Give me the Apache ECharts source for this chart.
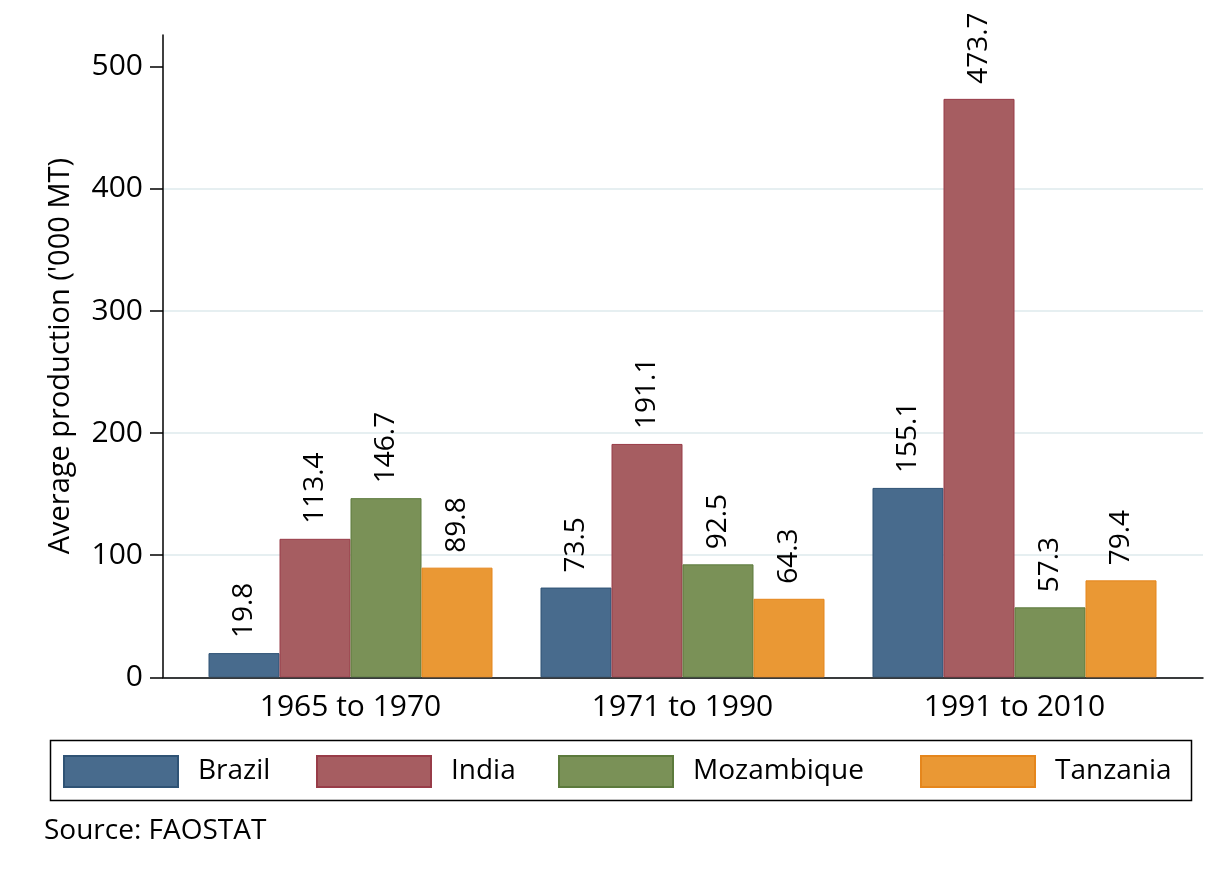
<!DOCTYPE html>
<html>
<head>
<meta charset="utf-8">
<script src="https://cdn.jsdelivr.net/npm/echarts@6/dist/echarts.min.js"></script>
<style>
  html, body { margin: 0; padding: 0; background: #fff; }
  #main { width: 1215px; height: 882px; }
</style>
</head>
<body>
<div id="main"></div>
<script>
// periods and average production ('000 MT)
const periods = ['1965 to 1970', '1971 to 1990', '1991 to 2010']
const brazil = [19.8, 73.5, 155.1]
const india = [113.4, 191.1, 473.7]
const mozambique = [146.7, 92.5, 57.3]
const tanzania = [89.8, 64.3, 79.4]
const yTicks = [0, 100, 200, 300, 400, 500]

const font = '"Open Sans", "Noto Sans", sans-serif'
const colors = {
    Brazil: ['#486b8d', '#2f5375'],
    India: ['#a65d61', '#983c48'],
    Mozambique: ['#7a9157', '#5c7a3c'],
    Tanzania: ['#ea9834', '#e5861c']
}

let myChart = echarts.init(document.getElementById('main'))

const makeSeries = (name, data) => ({
    name: name,
    type: 'bar',
    xAxisIndex: 1,
    yAxisIndex: 1,
    data: data,
    barWidth: 71,
    barGap: '0%',
    itemStyle: {color: colors[name][0], borderColor: colors[name][1], borderWidth: 1},
    label: {
        show: true,
        position: 'top',
        rotate: 90,
        align: 'left',
        verticalAlign: 'middle',
        distance: 15,
        fontFamily: font,
        fontSize: 28,
        color: '#000'
    }
})

const legendAt = (name, left) => ({
    data: [name],
    left: left,
    top: 755,
    padding: 0,
    itemWidth: 114,
    itemHeight: 31,
    icon: 'rect',
    selectedMode: false,
    textStyle: {fontFamily: font, fontSize: 28, color: '#000', padding: [0, 0, 0, 15]}
})

let option = {
    backgroundColor: '#fff',
    animation: false,
    title: {
        text: 'Source: FAOSTAT',
        left: 39,
        top: 812,
        textStyle: {fontFamily: font, fontSize: 28, fontWeight: 'normal', color: '#000'}
    },
    legend: [
        legendAt('Brazil', 63),
        legendAt('India', 316),
        legendAt('Mozambique', 558),
        legendAt('Tanzania', 920)
    ],
    graphic: [{
        type: 'rect',
        shape: {x: 50.5, y: 740.5, width: 1141, height: 60},
        style: {fill: 'none', stroke: '#000', lineWidth: 1.5}
    }],
    grid: [
        {left: 163, right: 12, top: 35, bottom: 204.7},
        {left: 184.5, right: 34.5, top: 35, bottom: 204.7}
    ],
    xAxis: [{
        gridIndex: 0,
        type: 'category',
        data: [''],
        axisLine: {show: true, lineStyle: {color: '#000', width: 1.5}},
        axisTick: {show: false},
        axisLabel: {show: false}
    }, {
        gridIndex: 1,
        type: 'category',
        data: periods,
        axisLine: {show: false},
        axisTick: {show: false},
        axisLabel: {fontFamily: font, fontSize: 30, color: '#000', margin: 15}
    }],
    yAxis: [{
        gridIndex: 0,
        type: 'value',
        min: 0,
        max: 526,
        interval: 100,
        name: "Average production ('000 MT)",
        nameLocation: 'middle',
        nameGap: 88,
        nameTextStyle: {fontFamily: font, fontSize: 29, color: '#000'},
        axisLine: {show: true, lineStyle: {color: '#000', width: 1.5}},
        axisTick: {show: true, length: 13, customValues: yTicks, lineStyle: {color: '#000', width: 1.5}},
        axisLabel: {fontFamily: font, fontSize: 30, color: '#000', margin: 20, customValues: yTicks},
        splitLine: {show: true, showMaxLine: false, lineStyle: {color: '#e6eff1', width: 2}}
    }, {
        gridIndex: 1,
        type: 'value',
        min: 0,
        max: 526,
        show: false,
        splitLine: {show: false}
    }],
    series: [
        makeSeries('Brazil', brazil),
        makeSeries('India', india),
        makeSeries('Mozambique', mozambique),
        makeSeries('Tanzania', tanzania)
    ]
}
myChart.setOption(option)
</script>
</body>
</html>
